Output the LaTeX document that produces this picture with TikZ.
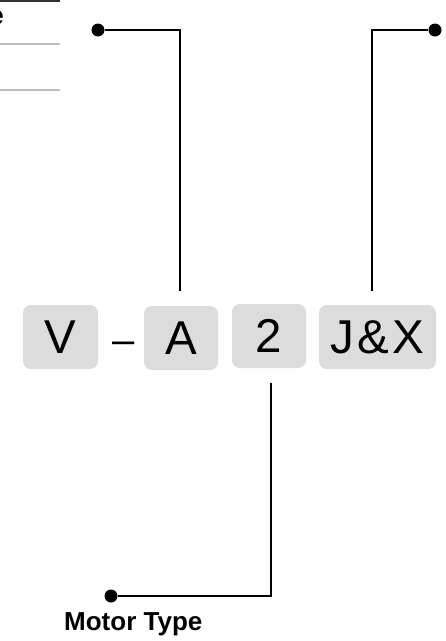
\documentclass[tikz,border=0pt]{standalone}
\usepackage{fontspec}
\setmainfont{Liberation Sans}
\definecolor{keygrey}{HTML}{DCDCDC}
\definecolor{rulegrey}{HTML}{BEBEBE}
\definecolor{ruledark}{HTML}{333333}
\begin{document}
\begin{tikzpicture}[x=1pt,y=-1pt,
    key/.style={rectangle,rounded corners=8pt,fill=keygrey,inner sep=0pt,
                minimum height=64pt,font=\fontsize{47.5}{50}\selectfont},
    dot/.style={circle,fill=black,inner sep=0pt,minimum size=13pt},
    lead/.style={line width=1.4pt},
    caption/.style={inner sep=0pt,font=\fontsize{26}{28}\selectfont\bfseries}]
  \clip (0,0) rectangle (446,641);

  % cut off table at the top left
  \draw[ruledark,line width=2pt] (0,1) -- (60,1);
  \foreach \y in {44,90}
    \draw[rulegrey,line width=2pt] (0,\y) -- (60,\y);
  \node[caption,anchor=base east] (cut) at (4,24) {e};

  % code keys
  \node[key,minimum width=75pt] (keyV) at (60.5,337) {V};
  \node[inner sep=0pt,font=\fontsize{40}{42}\selectfont,anchor=base] (dash) at (124,353) {–};
  \node[key,minimum width=74pt] (keyA) at (181,338) {A};
  \node[key,minimum width=74pt] (key2) at (269,336) {2};
  \node[key,minimum width=117pt] (keyJX) at (377.5,337) {J\kern3pt\&\kern3pt X};

  % leaders
  \node[dot] (dotA) at (98,30) {};
  \node[dot] (dotJX) at (435,30) {};
  \node[dot] (dot2) at (111,596) {};
  \coordinate (tipA) at (180,291);
  \coordinate (tipJX) at (372,291);
  \coordinate (tip2) at (271,383);
  \draw[lead] (dotA) -| (tipA);
  \draw[lead] (dotJX) -| (tipJX);
  \draw[lead] (tip2) |- (dot2);

  \node[caption,anchor=base west] (motor) at (64,630) {Motor Type};
\end{tikzpicture}
\end{document}
